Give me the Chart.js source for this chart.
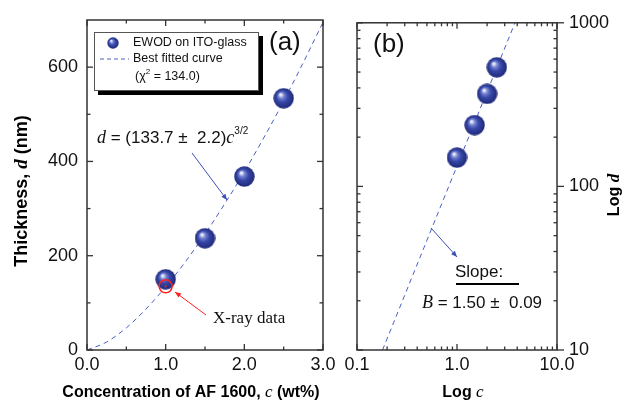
<!DOCTYPE html>
<html><head><meta charset="utf-8">
<script src="https://cdn.jsdelivr.net/npm/chart.js@4.4.0/dist/chart.umd.min.js"></script>
<style>
html,body{margin:0;padding:0;background:#fff;}
#wrap{position:relative;width:624px;height:407px;background:#fff;}
canvas{position:absolute;left:0;top:0;}
</style></head><body>
<div id="wrap"><canvas id="ca" width="624" height="407"></canvas><canvas id="cb" width="624" height="407"></canvas></div>
<script>
// ---- data ----
const concentration = [1.0, 1.5, 2.0, 2.5];
const thickness = [150, 237, 368, 534];
const xrayConc = [1.0];
const xrayThick = [135];
const fitConc = [0, 0.25, 0.5, 0.75, 1.0, 1.25, 1.5, 1.75, 2.0, 2.25, 2.5, 2.75, 3.0];
const fitThick = [0, 17, 47, 87, 134, 187, 246, 310, 378, 451, 528, 610, 695];
const logFitConc = [0.18, 3.8];
const logFitThick = [10, 1000];
// ---- tick labels ----
const xTicksA = [0, 1, 2, 3];
const yTicksA = [0, 200, 400, 600];
const xMinorA = [0.5, 1.5, 2.5];
const yMinorA = [100, 300, 500];
const xTicksB = [0.1, 1, 10];
const yTicksB = [10, 100, 1000];
const logMinorSteps = [2, 3, 4, 5, 6, 7, 8, 9];

const SANS = '"Liberation Sans", Arial, sans-serif';
const SERIF = '"Liberation Serif", "Times New Roman", serif';
const tickFont = {family: SANS, size: 18};
const frameColor = '#333';
const fitColor = '#4a5fc4';

function sphere(d) {
  const c = document.createElement('canvas'); c.width = c.height = d;
  const g = c.getContext('2d'); const r = d / 2;
  const grd = g.createRadialGradient(r * 0.68, r * 0.62, 0, r, r, r);
  grd.addColorStop(0, '#ffffff');
  grd.addColorStop(0.1, '#dfe2f7');
  grd.addColorStop(0.28, '#7583d0');
  grd.addColorStop(0.55, '#3747a8');
  grd.addColorStop(1, '#1d2775');
  g.fillStyle = grd; g.beginPath(); g.arc(r, r, r - 0.3, 0, Math.PI * 2); g.fill();
  return c;
}
const bigSphere = sphere(21);
const smallSphere = sphere(12);

function decadeMinors(decades) {
  const out = [];
  decades.forEach(d => logMinorSteps.forEach(m => out.push(d * m)));
  return out;
}

function drawTickSet(chart, axisId, values, len, sides) {
  const s = chart.scales[axisId], a = chart.chartArea, ctx = chart.ctx;
  values.forEach(v => {
    const p = s.getPixelForValue(v);
    sides.forEach(side => {
      ctx.beginPath();
      if (side === 'bottom') { ctx.moveTo(p, a.bottom); ctx.lineTo(p, a.bottom - len); }
      if (side === 'top') { ctx.moveTo(p, a.top); ctx.lineTo(p, a.top + len); }
      if (side === 'left') { ctx.moveTo(a.left, p); ctx.lineTo(a.left + len, p); }
      if (side === 'right') { ctx.moveTo(a.right, p); ctx.lineTo(a.right - len, p); }
      ctx.stroke();
    });
  });
}

function drawFrame(chart) {
  const a = chart.chartArea, ctx = chart.ctx;
  ctx.save();
  ctx.strokeStyle = frameColor; ctx.lineWidth = 1.5;
  ctx.strokeRect(a.left, a.top, a.right - a.left, a.bottom - a.top);
  ctx.restore();
}

function runs(ctx, parts, x, y, align) {
  let total = 0;
  parts.forEach(p => { ctx.font = p.font; p.w = ctx.measureText(p.t).width; total += p.w; });
  let cx = align === 'center' ? x - total / 2 : (align === 'right' ? x - total : x);
  ctx.textBaseline = 'middle'; ctx.textAlign = 'left';
  parts.forEach(p => { ctx.font = p.font; ctx.fillText(p.t, cx, y + (p.dy || 0)); cx += p.w; });
}

function arrow(ctx, x1, y1, x2, y2, color) {
  ctx.save();
  ctx.strokeStyle = color; ctx.fillStyle = color; ctx.lineWidth = 1;
  ctx.beginPath(); ctx.moveTo(x1, y1); ctx.lineTo(x2, y2); ctx.stroke();
  const ang = Math.atan2(y2 - y1, x2 - x1), L = 6, W = 2.5;
  ctx.beginPath();
  ctx.moveTo(x2, y2);
  ctx.lineTo(x2 - L * Math.cos(ang) + W * Math.sin(ang), y2 - L * Math.sin(ang) - W * Math.cos(ang));
  ctx.lineTo(x2 - L * Math.cos(ang) - W * Math.sin(ang), y2 - L * Math.sin(ang) + W * Math.cos(ang));
  ctx.closePath(); ctx.fill();
  ctx.restore();
}

const plugA = {
  id: 'plugA',
  afterDatasetsDraw(chart) {
    const ctx = chart.ctx;
    drawFrame(chart);
    ctx.save(); ctx.strokeStyle = frameColor; ctx.lineWidth = 1.3;
    drawTickSet(chart, 'x', xTicksA, 6, ['bottom', 'top']);
    drawTickSet(chart, 'x', xMinorA, 3.5, ['bottom', 'top']);
    drawTickSet(chart, 'y', yTicksA, 6, ['left', 'right']);
    drawTickSet(chart, 'y', yMinorA, 3.5, ['left', 'right']);
    ctx.restore();
  },
  afterDraw(chart) {
    const ctx = chart.ctx;
    ctx.save();
    // legend box with shadow
    ctx.fillStyle = '#000'; ctx.fillRect(98, 36, 165, 59);
    ctx.fillStyle = '#fff'; ctx.fillRect(94, 32, 165, 59);
    ctx.strokeStyle = '#555'; ctx.lineWidth = 1; ctx.strokeRect(94.5, 32.5, 164, 58);
    ctx.drawImage(smallSphere, 113 - 6, 43 - 6);
    ctx.strokeStyle = fitColor; ctx.setLineDash([4, 3]); ctx.lineWidth = 1;
    ctx.beginPath(); ctx.moveTo(100, 59); ctx.lineTo(129, 59); ctx.stroke(); ctx.setLineDash([]);
    ctx.fillStyle = '#111';
    const lf = '12.5px ' + SANS;
    runs(ctx, [{t: 'EWOD on ITO-glass', font: lf}], 133, 43, 'left');
    runs(ctx, [{t: 'Best fitted curve', font: lf}], 133, 59, 'left');
    runs(ctx, [{t: '(\u03C7', font: lf}, {t: '2', font: '8px ' + SANS, dy: -5}, {t: ' = 134.0)', font: lf}], 135, 77, 'left');
    // panel label
    runs(ctx, [{t: '(a)', font: '26px ' + SANS}], 269, 43, 'left');
    // formula
    runs(ctx, [{t: 'd', font: 'italic 18px ' + SERIF}, {t: ' = (133.7 \u00B1  2.2)', font: '17px ' + SANS},
      {t: 'c', font: 'italic 18px ' + SERIF}, {t: '3/2', font: '10px ' + SANS, dy: -7}], 97, 138, 'left');
    arrow(ctx, 192, 153, 227, 200, '#3a50b8');
    // X-ray annotation
    runs(ctx, [{t: 'X-ray data', font: '17px ' + SERIF}], 213, 319, 'left');
    arrow(ctx, 206, 315, 175, 292, '#ff2020');
    // axis titles
    ctx.fillStyle = '#000';
    runs(ctx, [{t: 'Concentration of AF 1600, ', font: 'bold 16px ' + SANS}, {t: 'c', font: 'italic 17px ' + SERIF},
      {t: ' (wt%)', font: 'bold 16px ' + SANS}], 191, 393, 'center');
    ctx.translate(22, 191); ctx.rotate(-Math.PI / 2);
    runs(ctx, [{t: 'Thickness, ', font: 'bold 18px ' + SANS}, {t: 'd', font: 'bold italic 19px ' + SERIF},
      {t: ' (nm)', font: 'bold 18px ' + SANS}], 0, 0, 'center');
    ctx.restore();
  }
};

const plugB = {
  id: 'plugB',
  afterDatasetsDraw(chart) {
    const ctx = chart.ctx;
    drawFrame(chart);
    ctx.save(); ctx.strokeStyle = frameColor; ctx.lineWidth = 1.3;
    drawTickSet(chart, 'x', xTicksB, 6, ['bottom', 'top']);
    drawTickSet(chart, 'x', decadeMinors([0.1, 1]), 3.5, ['bottom', 'top']);
    drawTickSet(chart, 'y', yTicksB, 6, ['left']);
    drawTickSet(chart, 'y', yTicksB, -7, ['right']);
    drawTickSet(chart, 'y', decadeMinors([10, 100]), 3.5, ['left', 'right']);
    ctx.restore();
  },
  afterDraw(chart) {
    const ctx = chart.ctx;
    ctx.save();
    ctx.fillStyle = '#111';
    runs(ctx, [{t: '(b)', font: '26px ' + SANS}], 373, 45, 'left');
    runs(ctx, [{t: 'Slope:', font: '17px ' + SANS}], 455, 272, 'left');
    ctx.fillStyle = '#000'; ctx.fillRect(456, 283, 63, 2);
    ctx.fillStyle = '#111';
    runs(ctx, [{t: 'B', font: 'italic 18px ' + SERIF}, {t: ' = 1.50 \u00B1  0.09', font: '17px ' + SANS}], 422, 303, 'left');
    arrow(ctx, 431, 228, 457, 257, '#3a50b8');
    ctx.fillStyle = '#000';
    runs(ctx, [{t: 'Log ', font: 'bold 16px ' + SANS}, {t: 'c', font: 'italic 17px ' + SERIF}], 463, 393, 'center');
    ctx.translate(615, 195); ctx.rotate(-Math.PI / 2);
    runs(ctx, [{t: 'Log ', font: 'bold 16px ' + SANS}, {t: 'd', font: 'bold italic 17px ' + SERIF}], 0, 0, 'center');
    ctx.restore();
  }
};

const pts = (xs, ys) => xs.map((x, i) => ({x: x, y: ys[i]}));
const common = {
  responsive: false, animation: false, devicePixelRatio: 1,
  plugins: {legend: {display: false}, tooltip: {enabled: false}}
};
const noGrid = {display: false, drawTicks: false, tickLength: 0};

new Chart(document.getElementById('ca'), {
  type: 'scatter',
  data: {datasets: [
    {label: 'X-ray data', data: pts(xrayConc, xrayThick), pointStyle: 'circle', pointRadius: 6.5,
      pointBorderColor: '#ff2020', pointBackgroundColor: 'rgba(255,255,255,0)', pointBorderWidth: 1.5},
    {label: 'X-ray center', data: pts(xrayConc, xrayThick), pointStyle: 'circle', pointRadius: 0.8,
      pointBorderColor: '#ff2020', pointBackgroundColor: '#ff2020', pointBorderWidth: 0.5},
    {label: 'EWOD on ITO-glass', data: pts(concentration, thickness), pointStyle: bigSphere, pointRadius: 10},
    {type: 'line', label: 'Best fitted curve', data: pts(fitConc, fitThick), borderColor: fitColor, borderWidth: 1,
      borderDash: [5, 4], pointRadius: 0, cubicInterpolationMode: 'monotone', fill: false}
  ]},
  options: Object.assign({}, common, {
    layout: {padding: {left: 0, top: 20, right: 301, bottom: 0}},
    scales: {
      x: {type: 'linear', min: 0, max: 3,
        afterBuildTicks: s => { s.ticks = xTicksA.map(v => ({value: v})); },
        afterFit: s => { s.height = 57; },
        grid: noGrid, border: {display: false},
        ticks: {font: tickFont, color: '#111', padding: 4, maxRotation: 0, autoSkip: false, callback: v => Number(v).toFixed(1)}},
      y: {type: 'linear', min: 0, max: 700,
        afterBuildTicks: s => { s.ticks = yTicksA.map(v => ({value: v})); },
        afterFit: s => { s.width = 87; },
        grid: noGrid, border: {display: false},
        ticks: {font: tickFont, color: '#111', padding: 9, autoSkip: false, callback: v => String(v)}}
    }
  }),
  plugins: [plugA]
});

new Chart(document.getElementById('cb'), {
  type: 'scatter',
  data: {datasets: [
    {label: 'EWOD on ITO-glass', data: pts(concentration, thickness), pointStyle: bigSphere, pointRadius: 10},
    {type: 'line', label: 'Linear fit', data: pts(logFitConc, logFitThick), borderColor: fitColor, borderWidth: 1,
      borderDash: [5, 4], pointRadius: 0, fill: false}
  ]},
  options: Object.assign({}, common, {
    layout: {padding: {left: 357, top: 20, right: 0, bottom: 0}},
    scales: {
      x: {type: 'logarithmic', min: 0.1, max: 10,
        afterBuildTicks: s => { s.ticks = xTicksB.map(v => ({value: v})); },
        afterFit: s => { s.height = 57; },
        grid: noGrid, border: {display: false},
        ticks: {font: tickFont, color: '#111', padding: 4, maxRotation: 0, autoSkip: false, callback: v => Number(v).toFixed(1)}},
      y: {type: 'logarithmic', position: 'right', min: 10, max: 1000,
        afterBuildTicks: s => { s.ticks = yTicksB.map(v => ({value: v})); },
        afterFit: s => { s.width = 67; },
        grid: noGrid, border: {display: false},
        ticks: {font: tickFont, color: '#111', padding: 12, autoSkip: false, callback: v => String(v)}}
    }
  }),
  plugins: [plugB]
});
</script>
</body></html>
